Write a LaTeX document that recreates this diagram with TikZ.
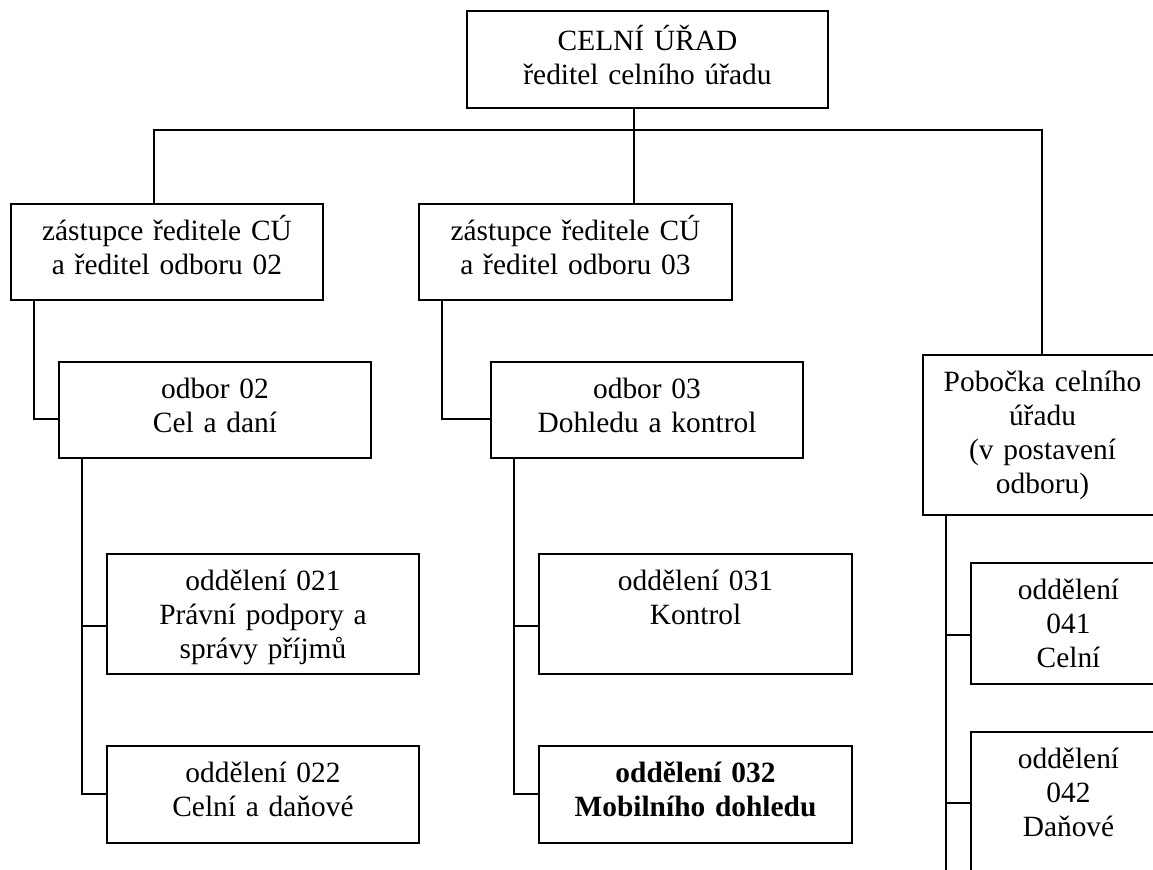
\documentclass[tikz,border=0pt]{standalone}
\usepackage{fontspec}
\setmainfont{Liberation Serif}

\tikzset{
  box/.style={draw, anchor=north west, inner xsep=0pt, inner ysep=4pt,
    align=center, text height=10.8pt, font=\fontsize{11.76}{13.6}\selectfont},
  wide/.style={box, text width=124.8pt},
}

\begin{document}
\begin{tikzpicture}[x=0.4pt,y=-0.4pt,line width=0.8pt]
  \useasboundingbox (0,0) rectangle (1153,870);
  \clip (0,0) rectangle (1153,870);

  \node[box, text width=144.4pt, text height=12pt, text depth=18.8pt] (cu) at (466,10) {CELNÍ ÚŘAD\\ředitel celního úřadu};
  \node[wide, text depth=19.6pt] (z02) at (10,203)  {zástupce ředitele CÚ\\a ředitel odboru 02};
  \node[wide, text width=125.2pt, text depth=19.6pt] (z03) at (418,203) {zástupce ředitele CÚ\\a ředitel odboru 03};
  \node[box, text width=95.6pt, text depth=45.2pt] (pob) at (922,354) {Pobočka celního\\úřadu\\(v postavení\\odboru)};

  \node[wide, text depth=19.6pt] (o02) at (58,361)  {odbor 02\\Cel a daní};
  \node[wide, text depth=19.6pt] (o03) at (490,361) {odbor 03\\Dohledu a kontrol};

  \node[wide, text depth=29.2pt] (o021) at (106,553) {oddělení 021\\Právní podpory a\\správy příjmů};
  \node[wide, text depth=20pt]   (o022) at (106,745) {oddělení 022\\Celní a daňové};
  \node[wide, text width=125.2pt, text depth=29.2pt] (o031) at (538,553) {oddělení 031\\Kontrol};
  \node[wide, text width=125.2pt, text depth=20pt]   (o032) at (538,745) {\textbf{oddělení 032}\\\textbf{Mobilního dohledu}};
  \node[box, text width=78pt, text depth=29.6pt] (o041) at (970,562) {oddělení\\041\\Celní};
  \node[box, text width=78pt, text depth=41.2pt] (o042) at (970,731) {oddělení\\042\\Daňové};

  % top level
  \coordinate (busL) at (154,130);
  \coordinate (busM) at (634,130);
  \coordinate (busR) at (1042,130);
  \draw (busL |- z02.north) -- (busL) -- (busR) -- (busR |- pob.north);
  \draw (busM |- cu.south) -- (busM |- z03.north);

  % deputies
  \coordinate (t02) at (34,419);
  \draw (t02 |- z02.south) -- (t02) -- (t02 -| o02.west);
  \coordinate (t03) at (442,419);
  \draw (t03 |- z03.south) -- (t03) -- (t03 -| o03.west);

  % departments
  \coordinate (t021) at (82,626);
  \draw (t021 |- o02.south) -- (t021 |- o022.west) -- (o022.west);
  \draw (t021) -- (t021 -| o021.west);
  \coordinate (t031) at (514,626);
  \draw (t031 |- o03.south) -- (t031 |- o032.west) -- (o032.west);
  \draw (t031) -- (t031 -| o031.west);
  \coordinate (t041) at (946,635);
  \coordinate (t042) at (946,803);
  \coordinate (pobEnd) at (946,880);
  \draw (t041 |- pob.south) -- (pobEnd);
  \draw (t041) -- (t041 -| o041.west);
  \draw (t042) -- (t042 -| o042.west);
\end{tikzpicture}
\end{document}
